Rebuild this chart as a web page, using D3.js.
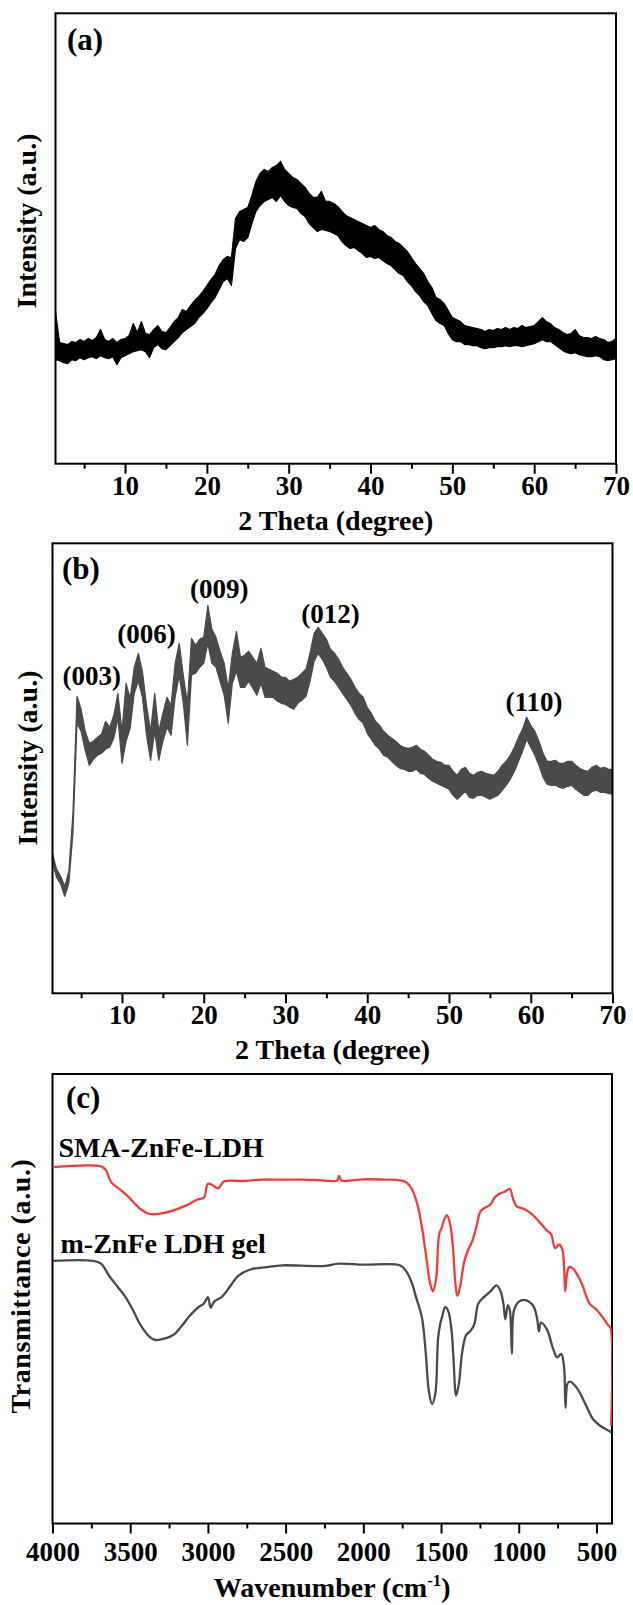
<!DOCTYPE html>
<html><head><meta charset="utf-8">
<script src="https://cdn.jsdelivr.net/npm/d3@7"></script>
<style>
body{margin:0;background:#fff;}
svg text{font-family:"Liberation Serif","Times New Roman",serif;font-weight:bold;fill:#000;}
</style></head><body>
<svg id="fig" width="633" height="1605"></svg>
<script>
// ---------------- DATA ----------------
// XRD sampling grid (2 theta, degree), 0.5 degree steps
const xrdAngles = d3.range(1.5, 70.001, 0.5);
// (a) noise envelope (lower / upper), intensity a.u.
const xrdA_lo = [104,103,101,100,104,103,106,104,106,107,
 105,108,106,105,107,99,106,108,110,112,
 113,114,112,106,116,119,115,114,118,122,
 126,131,134,137,140,146,150,155,161,166,
 174,182,185,178,215,224,222,226,240,252,
 258,262,264,266,262,268,262,258,256,255,
 250,247,240,236,232,234,233,232,230,228,
 222,218,215,216,213,210,206,207,205,206,
 203,200,198,194,190,188,182,178,172,168,
 162,158,150,143,140,138,130,124,122,122,
 119,119,118,118,116,115,116,116,117,117,
 118,117,118,118,117,118,119,120,122,124,
 122,122,119,116,113,111,110,111,109,108,
 107,107,108,107,104,103,104,105];
const xrdA_hi = [152,121,120,119,122,121,124,122,125,123,
 126,134,124,122,125,121,124,125,128,140,
 131,142,130,129,134,138,132,131,136,142,
 146,154,152,158,163,167,172,178,184,189,
 198,204,207,206,245,252,254,256,268,282,
 290,294,292,296,298,302,294,290,286,284,
 280,276,270,266,266,272,262,262,260,257,
 252,248,246,244,242,240,238,236,238,234,
 232,228,226,222,220,216,212,206,200,195,
 190,182,176,166,164,160,153,146,144,142,
 138,137,136,135,134,132,134,133,135,134,
 136,134,136,135,138,136,137,138,142,146,
 142,140,136,134,131,129,130,134,128,126,
 126,125,127,125,124,121,122,125];
// (b) noise envelope (lower / upper)
const xrdB_lo = [130,116,109,97,110,160,270,262,243,228,
 234,238,240,244,246,255,275,230,252,265,
 300,312,296,258,233,262,233,252,266,258,
 296,318,290,248,318,320,326,330,350,330,
 326,312,298,270,310,322,306,306,312,305,
 298,310,296,296,296,292,290,289,286,284,
 290,293,297,312,332,340,334,326,316,312,
 306,300,294,288,280,274,270,260,254,248,
 244,238,236,232,228,225,224,222,222,224,
 220,219,215,212,210,208,206,204,198,194,
 198,202,196,195,198,198,196,194,196,198,
 203,208,214,222,232,242,254,246,238,228,
 216,209,208,208,206,205,207,208,204,201,
 198,198,202,203,201,201,200,199];
const xrdB_hi = [140,124,117,107,122,180,297,284,262,250,
 252,256,259,272,266,278,300,262,310,295,
 326,340,322,288,262,300,262,280,296,288,
 330,350,318,290,355,348,354,356,388,364,
 356,342,330,305,340,362,336,338,342,336,
 330,345,326,324,322,320,316,316,312,314,
 316,320,324,340,360,366,360,354,344,340,
 334,326,320,314,306,300,296,286,280,272,
 268,262,258,255,252,248,246,245,246,248,
 244,242,238,234,232,231,228,228,222,218,
 224,226,220,218,221,222,220,219,218,222,
 228,232,238,246,256,264,276,268,262,252,
 240,232,232,233,230,230,232,232,228,225,
 223,222,226,228,225,226,224,224];
// peak labels for (b)
const peakLabels = ["(003)","(006)","(009)","(012)","(110)"];
const peakPos = [6.3, 13.0, 21.9, 35.5, 60.4];
const peakLabelLevel = [308, 350, 395, 370, 282];

// FTIR (c)
const smaWn = [4000,3688,3657,3623,3558,3506,3442,3377,3299,3221,3143,3065,3026,3000,2974,2935,2896,2779,2649,2519,2390,2260,2170,2156,2140,2000,1870,1766,1727,1688,1649,1623,1597,1571,1553,1532,1512,1494,1481,1462,1442,1423,1408,1395,1377,1351,1325,1299,1273,1247,1221,1182,1156,1130,1091,1057,1039,1013,961,909,857,818,792,766,740,719,701,688,675,649,597,545,506,467,429,410,406];
const smaT = [356.8,357.5,354,341.8,333.5,326.2,315.8,309.9,310.5,313.5,318.2,324.5,326.2,340.1,339.1,335.5,342.5,342.9,344.3,344.3,344.3,343.6,343.2,348.1,343.4,344.6,344.3,343.6,341.8,334.9,317.5,296.7,268.9,241,232.5,244.5,289.7,296.7,303.6,308.8,300.1,275.8,241,227.8,237.6,261.9,274.1,282.8,296.7,312.3,315.8,319.3,326.2,329.7,332.1,334.9,326.2,317.5,314.7,308.8,300.1,293.2,289.7,275.8,279.3,274.1,232.5,251.5,256.7,255,241,220.2,215,208,199.3,195.9,97.5];
const gelWn = [4000,3740,3688,3636,3584,3532,3481,3429,3377,3338,3273,3221,3169,3117,3065,3026,3000,2982,2961,2909,2857,2805,2727,2623,2519,2260,2156,2000,1766,1727,1688,1662,1623,1597,1579,1558,1537,1519,1506,1494,1473,1455,1434,1421,1403,1385,1364,1338,1312,1286,1260,1221,1182,1143,1117,1099,1086,1070,1057,1044,1031,1000,961,909,883,870,857,818,779,753,727,709,699,686,670,623,571,519,467,416,403];
const gelT = [262.9,262.9,260.2,248,237.5,227.1,213.2,197.5,187.2,183.7,185.4,188.9,197.6,208,216,220.2,226.5,216,221.9,227.1,237.5,248,254.3,256.7,258.5,257.7,260.2,259.1,258.5,253.2,241,227.1,206.3,168.1,133.3,119.5,129.8,185.5,199.3,206.3,216.7,213.2,195.9,168.1,128.1,140.2,171.5,188.9,192.5,199.3,220.2,227.1,232.4,238.3,232.4,220.2,204.5,218.5,213.2,169.8,213.2,221.9,223.7,218.5,206.3,192.4,201.1,194.1,175,166.3,169.8,157.6,115.9,140.2,142,135,119.5,103.8,96.8,92.3,90.9];
const ftirNames = ["SMA-ZnFe-LDH","m-ZnFe LDH gel"];

// ticks
const xrdMajor = [10,20,30,40,50,60,70];
const xrdMinor = [5,15,25,35,45,55,65];
const ftirMajor = [4000,3500,3000,2500,2000,1500,1000,500];
const ftirMinor = [3750,3250,2750,2250,1750,1250,750];

// ---------------- DRAW ----------------
const svg = d3.select("#fig");
const TICKFONT = 27, TITLEFONT = 28;
const FONT = '"Liberation Serif","Times New Roman",serif';

function panel(cfg){
  const g = svg.append("g");
  const x = d3.scaleLinear().domain(cfg.xdom).range([cfg.left, cfg.right]);
  const y = d3.scaleLinear().domain([0, 450]).range([cfg.bottom, cfg.top]);
  const id = "clip" + cfg.name;
  svg.append("clipPath").attr("id", id).append("rect")
    .attr("x", cfg.left).attr("y", cfg.top).attr("width", cfg.right - cfg.left).attr("height", cfg.bottom - cfg.top);
  const axMaj = d3.axisBottom(x).tickValues(cfg.major).tickSize(10).tickSizeOuter(0).tickFormat(d3.format("d"));
  const axMin = d3.axisBottom(x).tickValues(cfg.minor).tickSize(5).tickSizeOuter(0).tickFormat("");
  const ga = g.append("g").attr("transform", `translate(0,${cfg.bottom})`).call(axMaj);
  const gm = g.append("g").attr("transform", `translate(0,${cfg.bottom})`).call(axMin);
  [ga, gm].forEach(a => { a.select(".domain").remove(); a.selectAll("line").attr("stroke", "#000").attr("stroke-width", 2); });
  ga.selectAll("text").attr("y", cfg.labelOff).attr("dy", 0).style("font-size", TICKFONT + "px")
    .style("font-family", FONT).style("font-weight", "bold").attr("fill", "#000");
  return {g, x, y, clip: `url(#${id})`};
}

function frame(p, cfg){
  p.g.append("rect").attr("x", cfg.left).attr("y", cfg.top)
    .attr("width", cfg.right - cfg.left).attr("height", cfg.bottom - cfg.top)
    .attr("fill", "none").attr("stroke", "#000").attr("stroke-width", 2);
}

function xrdBand(p, lo, hi, color, w){
  const rows = xrdAngles.map((a, i) => ({a, lo: lo[i], hi: hi[i]}));
  const area = d3.area().x(d => p.x(d.a)).y0(d => p.y(d.lo)).y1(d => p.y(d.hi));
  p.g.append("path").attr("d", area(rows)).attr("fill", color).attr("stroke", color)
    .attr("stroke-width", w).attr("stroke-linejoin", "round").attr("clip-path", p.clip);
}

function yTitle(text, x, y, extra){
  const t = svg.append("text").attr("transform", `translate(${x},${y}) rotate(-90)`)
    .attr("text-anchor", "middle").style("font-size", TITLEFONT + "px").text(text);
  if (extra) t.attr("letter-spacing", extra);
}

// ---- panel (a)
const cA = {name:"a", xdom:[1.5,70], left:55.5, right:616, top:13.3, bottom:463.7, major:xrdMajor, minor:xrdMinor, labelOff:31};
const pA = panel(cA);
xrdBand(pA, xrdA_lo, xrdA_hi, "#000", 1.2);
frame(pA, cA);
svg.append("text").attr("x", 67).attr("y", 50).style("font-size", "31px").text("(a)");
svg.append("text").attr("x", (cA.left + cA.right) / 2).attr("y", 530).attr("text-anchor", "middle")
  .style("font-size", TITLEFONT + "px").text("2 Theta (degree)");
yTitle("Intensity (a.u.)", 36, 221);

// ---- panel (b)
const cB = {name:"b", xdom:[1.5,70], left:52.5, right:612.5, top:543.3, bottom:993.3, major:xrdMajor, minor:xrdMinor, labelOff:31};
const pB = panel(cB);
xrdBand(pB, xrdB_lo, xrdB_hi, "#4a4a4a", 1.2);
frame(pB, cB);
svg.append("text").attr("x", 62).attr("y", 579).style("font-size", "31px").text("(b)");
pB.g.selectAll("text.peak").data(peakLabels).join("text").attr("class", "peak")
  .attr("x", (d, i) => pB.x(peakPos[i])).attr("y", (d, i) => pB.y(peakLabelLevel[i]))
  .attr("text-anchor", "middle").style("font-size", "27px").text(d => d);
svg.append("text").attr("x", (cB.left + cB.right) / 2).attr("y", 1059).attr("text-anchor", "middle")
  .style("font-size", TITLEFONT + "px").text("2 Theta (degree)");
yTitle("Intensity (a.u.)", 37, 758);

// ---- panel (c)
const cC = {name:"c", xdom:[4000,400], left:52.5, right:612, top:1074, bottom:1523.5, major:ftirMajor, minor:ftirMinor, labelOff:37};
const pC = panel(cC);
frame(pC, cC);
const ftLine = d3.line().x(d => pC.x(d[0])).y(d => pC.y(d[1])).curve(d3.curveCatmullRom.alpha(0.5));
pC.g.append("path").attr("d", ftLine(gelWn.map((w, i) => [w, gelT[i]])))
  .attr("fill", "none").attr("stroke", "#4a4a4a").attr("stroke-width", 2.3).attr("clip-path", pC.clip);
pC.g.append("path").attr("d", ftLine(smaWn.map((w, i) => [w, smaT[i]])))
  .attr("fill", "none").attr("stroke", "#f03c3c").attr("stroke-width", 2.3).attr("clip-path", pC.clip);
svg.append("text").attr("x", 66).attr("y", 1108).style("font-size", "31px").text("(c)");
svg.append("text").attr("x", 58.5).attr("y", 1157).style("font-size", "28px").text(ftirNames[0]);
svg.append("text").attr("x", 60.5).attr("y", 1253).style("font-size", "28px").text(ftirNames[1]);
const wt = svg.append("text").attr("x", (cC.left + cC.right) / 2).attr("y", 1596.5).attr("text-anchor", "middle")
  .style("font-size", TITLEFONT + "px");
wt.append("tspan").text("Wavenumber (cm");
wt.append("tspan").attr("dy", -11).style("font-size", "17px").text("-1");
wt.append("tspan").attr("dy", 11).text(")");
yTitle("Transmittance (a.u.)", 30, 1286, "0.6px");
</script>
</body></html>
